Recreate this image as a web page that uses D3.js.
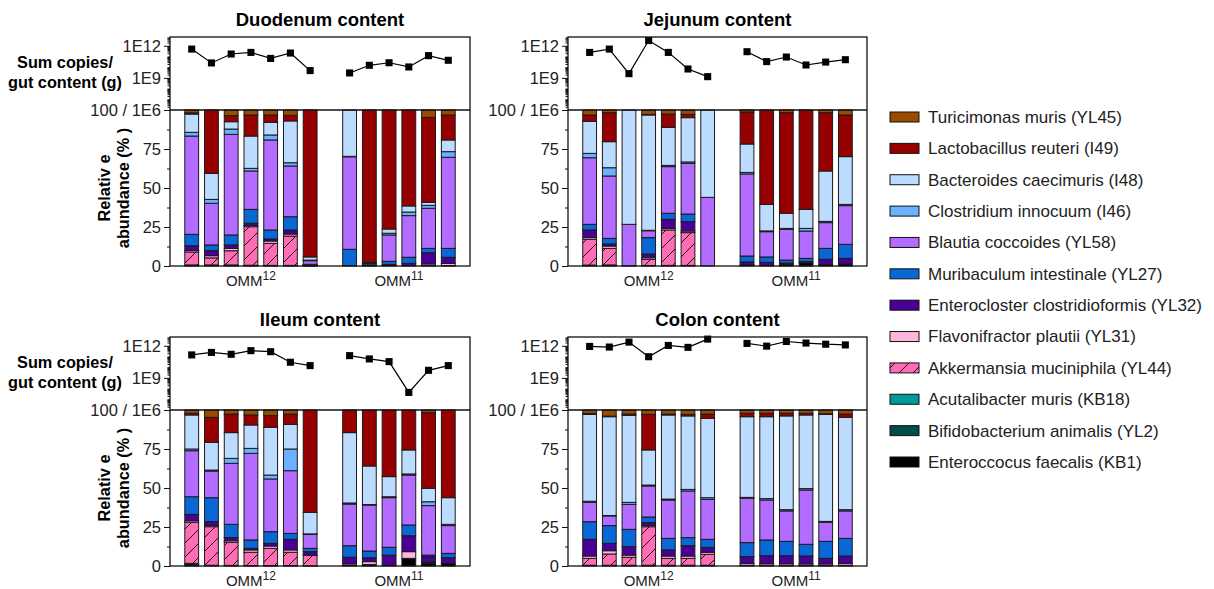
<!DOCTYPE html>
<html>
<head>
<meta charset="utf-8">
<script src="https://cdn.jsdelivr.net/npm/d3@7"></script>
<style>
  body { margin: 0; background: #fff; }
  svg { font-family: Arial, "Liberation Sans", sans-serif; }
</style>
</head>
<body>
<svg id="chart" width="1214" height="589"></svg>
<script>
// legend order (top -> bottom); the stack runs the other way
var speciesNames = [
  "Turicimonas muris (YL45)",
  "Lactobacillus reuteri (I49)",
  "Bacteroides caecimuris (I48)",
  "Clostridium innocuum (I46)",
  "Blautia coccoides (YL58)",
  "Muribaculum intestinale (YL27)",
  "Enterocloster clostridioformis (YL32)",
  "Flavonifractor plautii (YL31)",
  "Akkermansia muciniphila (YL44)",
  "Acutalibacter muris (KB18)",
  "Bifidobacterium animalis (YL2)",
  "Enteroccocus faecalis (KB1)"
];
var speciesColors = ["#994c00", "#960000", "#bcdcff", "#6ab2ff", "#b26cff", "#0a68d6",
  "#4a0096", "#ffb6df", "#ff6db4", "#009999", "#004c4c", "#000000"];
var hatchedSpecies = "Akkermansia muciniphila (YL44)";

var groupNames = ["OMM12", "OMM11"];
var omm12Ids = ["a1", "a2", "a3", "a4", "a5", "a6", "a7"];
var omm11Ids = ["b1", "b2", "b3", "b4", "b5", "b6"];

// relative abundance per mouse, columns bottom -> top:
// Ent, Bif, Acu, Akk, Flav, Entc, Mur, Blau, Clos, Bact, Lact, Tur
var duodenum12 = [
  [0.3,0.2,0.2,8.3,1.0,3.0,7.3,63.0,2.4,11.7,0.8,1.8],
  [0.3,0.2,0.2,4.5,1.4,3.2,3.7,26.7,2.5,16.7,40.6,0],
  [0.3,0.2,0.2,9.1,1.5,2.2,6.4,64.5,3.4,4.7,3.9,3.6],
  [0.2,0.2,0.1,24.7,0.8,1.4,8.9,24.6,1.7,20.7,13.5,3.2],
  [0.2,0.1,0.1,14.1,1.5,1.3,5.8,57.7,3.2,8.1,4.7,3.2],
  [0.2,0.1,0.1,18.8,1.3,2.6,8.5,32.5,2.1,26.8,3.6,3.4],
  [0.1,0.1,0.1,0.3,0.1,0.2,0.2,2.3,0.4,2.0,94.2,0]
];
var duodenum11 = [
  [0,0,0,0,0,0.3,10.4,59.3,0.3,29.7,0,0],
  [0.2,0,0,0,0,0.5,1.0,0.3,0,0.2,97.8,0],
  [0.3,0,0,0,0,0.7,2.0,16.9,1.1,2.7,76.3,0],
  [0.3,0,0,0,0,1.4,3.9,26.7,2.3,3.9,61.5,0],
  [0.2,0,0,0,1.1,7.2,2.8,25.7,1.9,1.9,54.5,4.7],
  [0.3,0,0,0,1.4,3.9,5.7,58.4,3.6,7.5,16.0,3.2]
];
var jejunum12 = [
  [0.3,0.2,0.1,16.5,1.1,4.9,3.6,42.7,2.8,20.5,4.1,3.2],
  [0.3,0.2,0.2,10.6,1.5,1.3,3.6,40.0,5.3,16.7,18.6,1.7],
  [0.2,0,0,0,0,0,0,26.5,0,73.3,0,0],
  [0.3,0,0,4.0,1.0,2.4,10.5,4.4,0.3,73.9,0.4,2.8],
  [0.3,0.1,0,22.7,1.0,5.8,3.9,29.9,0.8,24.4,8.5,2.6],
  [0.3,0.1,0,21.0,1.0,6.0,4.9,32.5,0.9,28.4,2.1,2.8],
  [0,0,0,0,0,0,0,44.0,0,56.0,0,0]
];
var jejunum11 = [
  [0.5,0.3,0,0,0,1.8,3.8,52.6,1.0,18.2,20.5,1.3],
  [0.5,0,0,0,0,1.9,3.4,16.2,0.5,17.0,60.5,0],
  [1.0,0,0,0,0,0.9,1.9,19.7,0.6,9.7,64.5,1.7],
  [2.0,0,0,0,0,0.8,2.1,17.5,1.7,12.2,63.7,0],
  [1.0,0,0,0,0,3.3,7.0,16.5,0.8,32.3,37.4,1.7],
  [1.3,0,0,0,0,3.6,9.0,24.8,0.8,30.6,26.7,3.2]
];
var ileum12 = [
  [0.8,0.5,0.4,26.3,1.0,4.1,11.3,29.5,1.1,21.8,1.1,2.1],
  [0.3,0.2,0,24.7,0.8,2.4,15.4,17.1,0.6,17.8,16.0,4.7],
  [0.3,0.1,0,14.8,1.0,2.0,8.5,39.1,3.2,16.5,11.9,2.6],
  [0.2,0.1,0,8.5,1.5,1.0,5.4,55.5,3.2,15.0,6.4,3.2],
  [0.2,0.1,0,11.0,1.5,1.7,7.5,33.8,2.5,30.6,7.5,3.6],
  [0.2,0.1,0,8.5,1.5,6.8,3.8,40.2,13.9,15.8,6.6,2.6],
  [0.1,0,0,6.7,0.2,2.2,2.1,9.0,0.3,13.8,65.6,0]
];
var ileum11 = [
  [0.3,0,0,0,1.0,4.3,7.4,26.7,0.7,45.1,14.5,0],
  [1.0,0,0,0,1.8,2.5,4.3,29.5,0.3,24.7,35.9,0],
  [0.5,0,0,0,0,6.5,5.0,31.8,0.6,12.9,42.7,0],
  [4.9,0,0,0,4.3,10.2,6.9,32.0,0.7,15.4,25.6,0],
  [1.5,0.5,0,0,0.5,3.5,1.0,31.7,2.5,8.6,48.5,1.7],
  [1.7,0,0,0,0,3.6,2.8,17.8,0.8,17.1,56.2,0]
];
var colon12 = [
  [0.3,0.2,0,4.4,1.5,10.7,11.3,12.4,0.7,55.7,0.6,2.2],
  [0.3,0.2,0,7.2,2.1,4.7,11.4,6.2,0.3,63.3,0.4,3.9],
  [0.3,0.2,0,5.1,1.4,5.4,11.1,16.0,1.3,55.8,0.8,2.6],
  [0.3,0.2,0,24.7,0.9,1.7,3.6,19.9,0.6,22.5,22.8,2.8],
  [0.3,0.2,0,4.4,1.5,3.9,7.4,24.6,0.6,53.9,0.6,2.6],
  [0.3,0.2,0,4.4,1.5,6.6,5.2,29.9,1.0,47.1,1.0,2.8],
  [0.3,0.2,0,7.0,1.3,3.2,5.1,25.6,1.1,50.9,2.7,2.6]
];
var colon11 = [
  [0.3,0.2,0,0,1.2,4.3,9.0,28.4,0.6,51.7,2.2,2.1],
  [0.3,0.2,0,0,1.0,5.1,10.1,25.6,0.9,52.5,2.2,2.1],
  [0.3,0.2,0,0,1.0,5.1,9.2,19.5,0.8,60.1,1.7,2.1],
  [0.3,0.2,0,0,0.9,5.0,7.5,34.8,0.9,47.2,1.1,2.1],
  [0.3,0.2,0,0,0.9,3.5,10.9,12.2,0.6,68.6,0.4,2.4],
  [0.3,0.2,0,0,1.2,4.7,11.3,17.6,0.8,59.2,2.1,2.6]
];

// sum of 16S copies per gram gut content
var duodenumCopies12 = [4.9e11, 2.5e10, 1.7e11, 2.4e11, 6.6e10, 2.1e11, 4.8e9];
var duodenumCopies11 = [2.9e9, 1.5e10, 2.6e10, 1.05e10, 1.2e11, 4.4e10];
var jejunumCopies12 = [2.4e11, 4.9e11, 2.5e9, 3.1e12, 2.4e11, 6.8e9, 1.3e9];
var jejunumCopies11 = [2.8e11, 3.3e10, 8.9e10, 1.6e10, 3.0e10, 5.0e10];
var ileumCopies12 = [1.4e11, 2.4e11, 1.6e11, 3.5e11, 2.8e11, 2.9e10, 1.4e10];
var ileumCopies11 = [1.2e11, 5.9e10, 3.3e10, 4.4e7, 5.1e9, 1.4e10];
var colonCopies12 = [8.7e11, 7.6e11, 2.2e12, 9.5e10, 1.07e12, 7.1e11, 4.2e12];
var colonCopies11 = [1.66e12, 9.3e11, 2.5e12, 1.8e12, 1.4e12, 1.2e12];

var pctTicks = [0, 25, 50, 75, 100];
var pctMinorTicks = [12.5, 37.5, 62.5, 87.5];
var copyTicks = [1e9, 1e12];

var svg = d3.select("#chart");
var stackOrder = speciesNames.slice().reverse();
var colorOf = d3.scaleOrdinal().domain(speciesNames).range(speciesColors);

var defs = svg.append("defs");
var hatch = defs.append("pattern")
  .attr("id", "hatch")
  .attr("patternUnits", "userSpaceOnUse")
  .attr("width", 14)
  .attr("height", 14);
hatch.append("rect").attr("width", 14).attr("height", 14).attr("fill", colorOf(hatchedSpecies));
hatch.append("path").attr("d", "M-1,15 L15,-1").attr("stroke", "#000").attr("stroke-width", 0.9);

function fillOf(name) {
  return name === hatchedSpecies ? "url(#hatch)" : colorOf(name);
}

var panels = [
  {title: "Duodenum content", x0: 170, x1: 470, top: 37, mid: 110, bottom: 266, ylabel: true,
   comp: [duodenum12, duodenum11], copies: [duodenumCopies12, duodenumCopies11]},
  {title: "Jejunum content", x0: 568, x1: 867, top: 37, mid: 110, bottom: 266, ylabel: false,
   comp: [jejunum12, jejunum11], copies: [jejunumCopies12, jejunumCopies11]},
  {title: "Ileum content", x0: 170, x1: 470, top: 337, mid: 410, bottom: 566, ylabel: true,
   comp: [ileum12, ileum11], copies: [ileumCopies12, ileumCopies11]},
  {title: "Colon content", x0: 568, x1: 867, top: 337, mid: 410, bottom: 566, ylabel: false,
   comp: [colon12, colon11], copies: [colonCopies12, colonCopies11]}
];

var groupIds = [omm12Ids, omm11Ids];
var slots = omm12Ids.concat(["gap"], omm11Ids);

panels.forEach(function(p) {
  var g = svg.append("g");

  var x = d3.scaleBand().domain(slots).range([p.x0, p.x1])
    .paddingInner(0.3).paddingOuter(0.75);
  var yPct = d3.scaleLinear().domain([0, 100]).range([p.bottom, p.mid]);
  var yCopy = d3.scaleLog().domain([1e6, Math.pow(10, 12.82)]).range([p.mid, p.top]);

  // stacked bars
  var rows = [];
  groupIds.forEach(function(ids, gi) {
    ids.forEach(function(id, i) {
      var r = {id: id};
      stackOrder.forEach(function(name, k) { r[name] = p.comp[gi][i][k]; });
      rows.push(r);
    });
  });
  var series = d3.stack().keys(stackOrder).offset(d3.stackOffsetExpand)(rows);

  g.selectAll("g.layer")
    .data(series)
    .enter().append("g")
    .attr("class", "layer")
    .attr("fill", function(s) { return fillOf(s.key); })
    .selectAll("rect")
    .data(function(s) { return s.filter(function(d) { return d[1] - d[0] > 0; }); })
    .enter().append("rect")
    .attr("x", function(d) { return x(d.data.id); })
    .attr("width", x.bandwidth())
    .attr("y", function(d) { return yPct(d[1] * 100); })
    .attr("height", function(d) { return yPct(d[0] * 100) - yPct(d[1] * 100); })
    .attr("stroke", "#1a1a1a")
    .attr("stroke-width", 1);

  // copies line, one per group
  var line = d3.line()
    .x(function(d) { return x(d.id) + x.bandwidth() / 2; })
    .y(function(d) { return yCopy(d.v); });
  groupIds.forEach(function(ids, gi) {
    var pts = ids.map(function(id, i) { return {id: id, v: p.copies[gi][i]}; });
    g.append("path").datum(pts)
      .attr("d", line)
      .attr("fill", "none")
      .attr("stroke", "#000")
      .attr("stroke-width", 1.2);
    g.selectAll(null).data(pts).enter().append("path")
      .attr("d", d3.symbol(d3.symbolSquare, 50))
      .attr("transform", function(d) {
        return "translate(" + (x(d.id) + x.bandwidth() / 2) + "," + yCopy(d.v) + ")";
      })
      .attr("fill", "#000");
  });

  // frame
  g.append("rect")
    .attr("x", p.x0).attr("y", p.top)
    .attr("width", p.x1 - p.x0).attr("height", p.bottom - p.top)
    .attr("fill", "none").attr("stroke", "#111").attr("stroke-width", 1.3);
  g.append("line")
    .attr("x1", p.x0).attr("x2", p.x1).attr("y1", p.mid).attr("y2", p.mid)
    .attr("stroke", "#111").attr("stroke-width", 1.3);

  // axes
  var minorCopy = [];
  d3.range(6, 13).forEach(function(k) {
    d3.range(1, 10).forEach(function(m) {
      var v = m * Math.pow(10, k);
      if (v > 1e6 && v < Math.pow(10, 12.82) && copyTicks.indexOf(v) < 0) minorCopy.push(v);
    });
  });
  var axes = [
    d3.axisLeft(yCopy).tickValues(minorCopy).tickSize(2.5).tickFormat(""),
    d3.axisLeft(yCopy).tickValues(copyTicks).tickSize(6)
      .tickFormat(function(d) { return "1E" + Math.round(Math.log10(d)); }),
    d3.axisLeft(yPct).tickValues(pctMinorTicks).tickSize(3).tickFormat(""),
    d3.axisLeft(yPct).tickValues(pctTicks).tickSize(6)
      .tickFormat(function(d) { return d === 100 ? "100 / 1E6" : d; })
  ];
  axes.forEach(function(ax) {
    var a = g.append("g").attr("transform", "translate(" + p.x0 + ",0)").call(ax);
    a.select(".domain").remove();
    a.selectAll(".tick line").attr("stroke", "#111").attr("stroke-width", 1);
    a.selectAll(".tick text").attr("font-size", 16.5).attr("fill", "#222")
      .attr("font-family", "Arial, 'Liberation Sans', sans-serif");
  });

  // group labels
  groupIds.forEach(function(ids, gi) {
    var cx = (x(ids[0]) + x(ids[ids.length - 1]) + x.bandwidth()) / 2;
    var t = g.append("text")
      .attr("x", cx).attr("y", p.bottom + 20)
      .attr("text-anchor", "middle").attr("font-size", 15).attr("fill", "#222");
    t.append("tspan").text(groupNames[gi].slice(0, 3));
    t.append("tspan").attr("dy", -6).attr("font-size", 12).text(groupNames[gi].slice(3));
  });

  // title
  g.append("text")
    .attr("x", (p.x0 + p.x1) / 2).attr("y", p.top - 11)
    .attr("text-anchor", "middle")
    .attr("font-size", 18.5).attr("font-weight", "bold")
    .text(p.title);

  if (p.ylabel) {
    var lab = g.append("text")
      .attr("text-anchor", "middle").attr("font-size", 16.3).attr("font-weight", "bold");
    lab.append("tspan").attr("x", 65).attr("y", p.top + 31).text("Sum copies/");
    lab.append("tspan").attr("x", 65).attr("y", p.top + 51).text("gut content (g)");

    var cy = (p.mid + p.bottom) / 2;
    var rl = g.append("text")
      .attr("transform", "translate(110," + cy + ") rotate(-90)")
      .attr("text-anchor", "middle").attr("font-size", 16.3).attr("font-weight", "bold");
    rl.append("tspan").attr("x", 0).attr("y", 0).text("Relativ e");
    rl.append("tspan").attr("x", 0).attr("y", 19).text("abundance (% )");
  }
});

// legend
var legend = svg.append("g").attr("transform", "translate(890,117)");
var ly = d3.scalePoint().domain(speciesNames).range([0, 345]);
var items = legend.selectAll("g").data(speciesNames).enter().append("g")
  .attr("transform", function(d) { return "translate(0," + ly(d) + ")"; });
items.append("rect")
  .attr("x", 0).attr("y", -5).attr("width", 29).attr("height", 10)
  .attr("fill", fillOf)
  .attr("stroke", "#111").attr("stroke-width", 1);
items.append("text")
  .attr("x", 38).attr("dy", "0.35em")
  .attr("font-size", 17).attr("fill", "#222")
  .text(function(d) { return d; });
</script>
</body>
</html>
